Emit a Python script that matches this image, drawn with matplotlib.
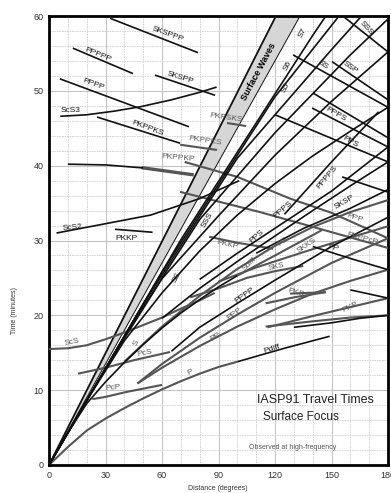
import matplotlib
matplotlib.use('Agg')
import matplotlib.pyplot as plt
import numpy as np

plt.rcParams['font.family'] = ['Liberation Sans', 'DejaVu Sans']

# ---- travel time curves, distance (deg) / time (min) ----
# direct and core phases
P_d = [0, 10, 20, 30, 40, 50, 60, 70, 80, 90, 100]
P_t = [0, 2.4, 4.6, 6.2, 7.6, 8.9, 10.1, 11.2, 12.2, 13.1, 13.8]
Pdiff_d = [100, 125, 149]
Pdiff_t = [13.8, 15.6, 17.2]
PcP_d = [23, 30, 40, 50, 60]
PcP_t = [8.8, 9.1, 9.7, 10.2, 10.7]
PcS_d = [15.4, 30, 45, 64.3]
PcS_t = [12.2, 13.0, 14.0, 15.1]
ScS_d = [0, 10, 20, 30, 40, 50, 60, 70, 80, 88]
ScS_t = [15.5, 15.6, 16.0, 16.8, 17.7, 18.7, 19.7, 20.9, 22.0, 23.0]
ScS2_d = [4, 27, 54, 80, 101]
ScS2_t = [31.0, 32.1, 33.4, 35.6, 38.0]
ScS3_d = [6, 20, 35, 49, 65, 80, 89]
ScS3_t = [46.6, 46.8, 47.3, 47.9, 48.8, 49.8, 50.5]

PKP_d = [115, 140, 160, 180]
PKP_t = [18.5, 19.2, 19.7, 20.0]
PKPab_d = [130, 150, 165, 180]
PKPab_t = [18.4, 19.0, 19.6, 20.0]
PKPr_d = [116, 140, 160, 180]
PKPr_t = [18.4, 19.9, 21.1, 22.3]
PKPm_d = [160, 180]
PKPm_t = [23.4, 22.3]
PKS_d = [115, 130, 147]
PKS_t = [21.6, 22.4, 23.1]
PKS2_d = [128, 147]
PKS2_t = [22.9, 23.1]
PKKP_d = [35, 55]
PKKP_t = [31.5, 31.1]
PKKP2_d = [85, 100, 119]
PKKP2_t = [30.5, 29.7, 28.9]

S_d = [0, 10, 20, 30, 40, 50, 60, 70, 80, 90, 100]
S_t = [0, 4.3, 8.2, 11.1, 13.7, 16.1, 18.3, 20.3, 22.1, 23.8, 25.3]
Sdiff_d = [100, 120, 145]
Sdiff_t = [25.3, 28.0, 31.4]
SKS_d = [75, 90, 105, 120, 135]
SKS_t = [22.4, 23.6, 25.0, 25.9, 26.6]
SKKS_d = [90, 110, 137, 160, 180]
SKKS_t = [24.5, 26.4, 28.6, 30.4, 31.9]

# multiples
SS_d = [0, 20, 40, 60, 80, 100, 120, 140, 160, 180]
SS_t = [0, 8.6, 16.6, 23.0, 28.6, 33.4, 37.6, 41.3, 44.6, 47.8]
SSS_d = [0, 30, 60, 90, 120, 150, 180]
SSS_t = [0, 12.9, 24.9, 33.3, 41.4, 48.6, 55.2]
S4_d = [0, 40, 80, 120, 160, 180]
S4_t = [0, 17.2, 32.8, 44.4, 54.8, 59.6]
S5_d = [0, 50, 100, 150, 166]
S5_t = [0, 21.5, 41.0, 55.5, 60.0]
S6_d = [0, 60, 120, 154]
S6_t = [0, 25.8, 49.2, 60.0]
S7_d = [0, 70, 140, 147]
S7_t = [0, 30.1, 57.4, 60.0]

PP_d = [47, 60, 80, 100, 120, 140, 160, 180]
PP_t = [10.9, 13.0, 15.9, 18.5, 20.8, 22.9, 24.6, 26.1]
PPP_d = [47, 60, 80, 100, 120, 150, 180]
PPP_t = [10.9, 13.5, 17.0, 20.1, 23.0, 27.0, 30.3]
PPPP_d = [65, 80, 100, 120, 150, 180]
PPPP_t = [15.2, 18.4, 21.6, 24.7, 29.2, 33.1]
PS_d = [40, 60, 80, 100, 120, 140, 160, 180]
PS_t = [13.8, 18.5, 22.6, 26.2, 29.3, 31.8, 33.8, 35.4]
PPS_d = [60, 80, 100, 120, 140, 160, 180]
PPS_t = [19.6, 23.6, 27.2, 30.6, 34.0, 37.3, 40.5]
PPPS_d = [80, 100, 124, 150, 180]
PPPS_t = [24.8, 28.3, 32.3, 36.6, 42.5]
PPPPS_d = [125, 150, 175]
PPPPS_t = [33.5, 40.5, 47.2]
SKSP_d = [110, 135, 160, 180]
SKSP_t = [28.3, 31.6, 34.3, 36.8]

# branches running back from 180 degrees
PP_major_d = [140, 160, 180]
PP_major_t = [29.2, 27.6, 26.1]
PPP_major_d = [72, 100, 128, 150, 180]
PPP_major_t = [40.5, 38.5, 35.6, 33.7, 30.3]
PKPPcP_d = [69.6, 112, 180]
PKPPcP_t = [36.5, 33.8, 29.0]
SS_major_d = [129.6, 180]
SS_major_t = [54.8, 47.8]
SSP_d = [150.3, 180]
SSP_t = [53.9, 48.8]
SSS_major_d = [156, 180]
SSS_major_t = [60.0, 55.2]
PPS_major_d = [120, 180]
PPS_major_t = [46.8, 40.5]
PPPS_major_d = [139.7, 180]
PPPS_major_t = [47.7, 42.5]
X1_d = [140.2, 179.5]
X1_t = [49.7, 43.8]
X2_d = [155.6, 179.5]
X2_t = [38.5, 36.5]

# upper left late phases
PKPPKP_d = [10, 30, 50]
PKPPKP_t = [40.2, 40.1, 39.7]
PKPPKP2_d = [50, 76]
PKPPKP2_t = [39.7, 38.8]
PKPPKS_d = [25.5, 69.6]
PKPPKS_t = [46.5, 43.0]
PKPPKS2_d = [69.6, 89.2]
PKPPKS2_t = [42.8, 42.1]
PKPSKS_d = [94.5, 104.6]
PKPSKS_t = [45.7, 45.3]
PPPP_up_d = [5.8, 74.3]
PPPP_up_t = [51.6, 45.2]
PPPPP_d = [12.7, 44.6]
PPPPP_t = [55.7, 52.3]
SKSPP_d = [56.3, 88.2]
SKSPP_t = [52.1, 49.4]
SKSPPP_d = [32.4, 79.1]
SKSPPP_t = [59.7, 55.1]

# surface wave band edges
SW_left_d = [0, 120.5]
SW_left_t = [0, 60]
SW_right_d = [0, 133.3]
SW_right_t = [0, 60]

# labels: text, distance, time, rotation, colour key
labels = [
    ('SKSPPP', 63.2, 57.5, -20, 'k'), ('PPPPP', 26, 54.8, -22, 'k'),
    ('SKSPP', 69.6, 51.7, -18, 'k'), ('PPPP', 23.4, 50.8, -20, 'k'),
    ('ScS3', 11.2, 47.4, 0, 'k'), ('PKPPKS', 52.6, 45.0, -20, 'k'),
    ('PKPSKS', 94, 46.4, -8, 'g'), ('PKPPKS', 82.8, 43.3, -8, 'g'),
    ('PKPPKP', 68.5, 41.0, -5, 'g'), ('ScS2', 12.2, 31.7, 5, 'k'),
    ('PKKP', 40.9, 30.3, 0, 'k'), ('SS', 68, 25.0, 62, 'k'),
    ('SSS', 84.4, 32.7, 60, 'k'), ('S5', 125.9, 50.4, 62, 'k'),
    ('S6', 126.9, 53.3, 62, 'k'), ('S7', 134.9, 57.7, 62, 'k'),
    ('SS', 145.5, 53.5, -35, 'k'), ('SSP', 159.9, 53.1, -35, 'k'),
    ('SSS', 168.3, 58.4, -48, 'k'), ('PPPS', 152.4, 46.8, -30, 'k'),
    ('PPS', 159.9, 43.2, -30, 'k'), ('PPPPS', 147.6, 38.4, 50, 'k'),
    ('SKSP', 156.7, 35.1, 30, 'k'), ('PPP', 162.5, 33.0, -18, 'g'),
    ('PKPPcP', 166.6, 30.3, -15, 'g'), ('PPPS', 124.3, 34.1, 40, 'k'),
    ('PPS', 110.5, 30.5, 40, 'k'), ('PS', 124.3, 29.8, 35, 'g'),
    ('SKKS', 137, 29.3, 35, 'g'), ('PP', 150.8, 29.0, -15, 'k'),
    ('PKKP', 95, 29.4, -12, 'g'), ('Sdiff', 106.7, 26.9, 45, 'g'),
    ('SKS', 120.6, 26.5, 12, 'g'), ('PPPP', 104, 22.7, 35, 'k'),
    ('PPP', 98.2, 20.2, 35, 'g'), ('PP', 88.2, 17.1, 30, 'g'),
    ('PKS', 131.2, 23.0, -15, 'g'), ('PKP', 159.9, 21.1, 25, 'g'),
    ('Pdiff', 118.4, 15.5, 18, 'k'), ('P', 74.9, 12.4, 25, 'g'),
    ('PcS', 51, 15.0, 10, 'g'), ('S', 46.2, 16.3, 65, 'g'),
    ('PcP', 34, 10.3, 5, 'g'), ('ScS', 12.2, 16.4, 10, 'g'),
]

BLACK = '#111111'
GRAY = '#555555'

fig = plt.figure(figsize=(3.91, 4.93), dpi=100)
ax = fig.add_axes([49 / 391, 28 / 493, 339 / 391, 449 / 493])
ax.set_xlim(0, 180)
ax.set_ylim(0, 60)

ax.set_xticks(np.arange(0, 181, 30))
ax.set_xticks(np.arange(0, 181, 10), minor=True)
ax.set_yticks(np.arange(0, 61, 10))
ax.set_yticks(np.arange(0, 61, 2), minor=True)
ax.grid(which='minor', color='#d0d0d0', lw=0.6, ls=(0, (2, 1)))
ax.grid(which='major', color='#c4c4c4', lw=0.8)
ax.set_axisbelow(True)
ax.tick_params(which='both', length=0, labelsize=6.5, colors='#333333', pad=4)
for s in ax.spines.values():
    s.set_linewidth(2)
    s.set_color('black')

# surface wave band
band_x = np.r_[SW_left_d, SW_right_d[::-1]]
band_y = np.r_[SW_left_t, SW_right_t[::-1]]
ax.fill(band_x, band_y, color='#d6d6d6', lw=0, zorder=2)
ax.plot(SW_left_d, SW_left_t, color=BLACK, lw=1.3, zorder=3)
ax.plot(SW_right_d, SW_right_t, color=BLACK, lw=0.7, zorder=3)

gray_lines = [
    (P_d, P_t), (PcP_d, PcP_t), (PcS_d, PcS_t), (ScS_d, ScS_t),
    (PKP_d, PKP_t), (PKPr_d, PKPr_t), (PKS_d, PKS_t), (PKS2_d, PKS2_t),
    (PKKP2_d, PKKP2_t), (Sdiff_d, Sdiff_t), (SKS_d, SKS_t), (SKKS_d, SKKS_t),
    (PP_d, PP_t), (PPP_d, PPP_t), (PS_d, PS_t),
    (PPP_major_d, PPP_major_t), (PKPPcP_d, PKPPcP_t),
    (PKPPKS2_d, PKPPKS2_t), (PKPSKS_d, PKPSKS_t),
]
black_lines = [
    (Pdiff_d, Pdiff_t), (ScS2_d, ScS2_t), (ScS3_d, ScS3_t),
    (PKPab_d, PKPab_t), (PKPm_d, PKPm_t), (PKKP_d, PKKP_t),
    (S_d, S_t), (SS_d, SS_t), (SSS_d, SSS_t), (S4_d, S4_t),
    (S5_d, S5_t), (S6_d, S6_t), (S7_d, S7_t),
    (PPPP_d, PPPP_t), (PPS_d, PPS_t), (PPPS_d, PPPS_t),
    (PPPPS_d, PPPPS_t), (SKSP_d, SKSP_t),
    (PP_major_d, PP_major_t), (SS_major_d, SS_major_t), (SSP_d, SSP_t),
    (SSS_major_d, SSS_major_t), (PPS_major_d, PPS_major_t),
    (PPPS_major_d, PPPS_major_t), (X1_d, X1_t), (X2_d, X2_t),
    (PKPPKP_d, PKPPKP_t), (PKPPKS_d, PKPPKS_t), (PPPP_up_d, PPPP_up_t),
    (PPPPP_d, PPPPP_t), (SKSPP_d, SKSPP_t), (SKSPPP_d, SKSPPP_t),
]
for d, t in gray_lines:
    ax.plot(d, t, color=GRAY, lw=1.5, zorder=4, solid_capstyle='butt')
ax.plot(PKPPKP2_d, PKPPKP2_t, color=GRAY, lw=2.4, zorder=4)
for d, t in black_lines:
    ax.plot(d, t, color=BLACK, lw=1.2, zorder=5, solid_capstyle='butt')

for txt, d, t, rot, c in labels:
    ax.text(d, t, txt, rotation=rot, fontsize=6,
            color=BLACK if c == 'k' else GRAY, ha='center', va='center',
            rotation_mode='anchor', zorder=6)
ax.text(111.5, 52.5, 'Surface Waves', rotation=62, fontsize=6.5,
        fontweight='bold', ha='center', va='center', rotation_mode='anchor',
        zorder=6)

ax.text(141.3, 8.7, 'IASP91 Travel Times', fontsize=9, ha='center',
        va='center', color='#222222', zorder=6)
ax.text(134, 6.4, 'Surface Focus', fontsize=8.5, ha='center',
        va='center', color='#222222', zorder=6)
ax.text(129.6, 2.3, 'Observed at high-frequency', fontsize=5, ha='center',
        va='center', color='#555555', zorder=6)

fig.text(218 / 391, 5 / 493, 'Distance (degrees)', fontsize=5,
         ha='center', va='center', color='#333333')
fig.text(14 / 391, 1 - 310 / 493, 'Time (minutes)', fontsize=5,
         rotation=90, ha='center', va='center', color='#333333')

fig.savefig('out.png', dpi=100)
